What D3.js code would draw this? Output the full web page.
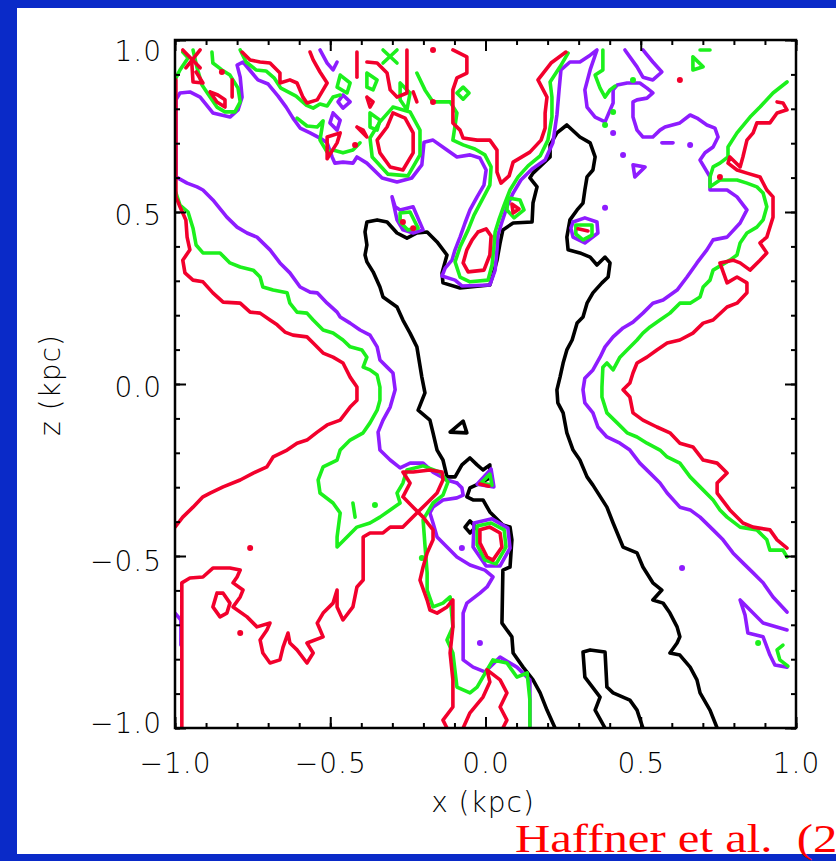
<!DOCTYPE html>
<html>
<head>
<meta charset="utf-8">
<script src="https://cdn.jsdelivr.net/npm/d3@7"></script>
<style>
  html, body { margin: 0; padding: 0; background: #0a2ac8; }
  svg { display: block; }
</style>
</head>
<body>
<svg id="chart" width="836" height="861"></svg>
<script>
// ---------------------------------------------------------------
// Contour levels of the emission-measure map, traced as polylines.
// Every point is [x, z] in kpc.
// ---------------------------------------------------------------
const xMajorTicks = [-1, -0.5, 0, 0.5, 1];
const zMajorTicks = [-1, -0.5, 0, 0.5, 1];
const tickLabels = ["\u22121.0", "\u22120.5", "0.0", "0.5", "1.0"];
const minorStep = 0.1;
const xTitle = "x (kpc)";
const zTitle = "z (kpc)";
const citation = "Haffner et al.  (2009)";

// innermost level
const blackContours = [
  [[.224,-1],[.198,-.948],[.176,-.898],[.153,-.860],[.121,-.823],[.089,-.782],[.085,-.735],[.053,-.695],[.056,-.541],[.079,-.532],[.085,-.453],[.079,-.416],[.056,-.410],[.014,-.372],[-.008,-.337],[-.040,-.337],[-.060,-.328],[-.050,-.302],[-.024,-.291],[.014,-.273],[.014,-.235],[-.008,-.250],[-.027,-.235],[-.050,-.215],[-.076,-.235],[-.098,-.270],[-.124,-.270],[-.137,-.221],[-.156,-.192],[-.169,-.142],[-.179,-.105],[-.217,-.076],[-.195,-.026],[-.205,.020],[-.221,.108],[-.243,.148],[-.266,.186],[-.285,.224],[-.330,.253],[-.340,.282],[-.362,.326],[-.382,.355],[-.388,.375],[-.382,.404],[-.388,.442],[-.382,.471],[-.349,.477],[-.317,.471],[-.285,.439],[-.253,.424],[-.221,.439],[-.188,.442],[-.156,.413],[-.124,.375],[-.140,.323],[-.137,.294],[-.082,.279],[.014,.288],[.024,.317],[.037,.360],[.047,.410],[.056,.448],[.089,.468],[.150,.471],[.153,.526],[.166,.573],[.143,.599],[.153,.613],[.208,.660],[.208,.695],[.230,.730],[.262,.753],[.304,.718],[.337,.701],[.353,.660],[.346,.622],[.327,.602],[.320,.564],[.314,.526],[.295,.506],[.272,.477],[.262,.427],[.266,.390],[.304,.381],[.337,.369],[.359,.346],[.385,.369],[.401,.352],[.395,.311],[.375,.294],[.346,.265],[.327,.235],[.314,.195],[.295,.177],[.279,.128],[.262,.099],[.250,.061],[.240,.020],[.230,-.017],[.233,-.055],[.250,-.084],[.262,-.142],[.282,-.192],[.304,-.221],[.327,-.270],[.346,-.294],[.391,-.358],[.411,-.404],[.443,-.474],[.488,-.491],[.507,-.532],[.539,-.578],[.568,-.599],[.539,-.628],[.572,-.637],[.594,-.666],[.617,-.706],[.626,-.735],[.617,-.753],[.594,-.782],[.626,-.788],[.659,-.823],[.681,-.860],[.691,-.898],[.723,-.948],[.746,-1]],
  [[.385,-1],[.353,-.948],[.369,-.910],[.320,-.852],[.314,-.779],[.337,-.773],[.385,-.779],[.391,-.881],[.411,-.898],[.465,-.919],[.488,-.948],[.507,-1]],
  [[-.114,-.140],[-.072,-.108],[-.060,-.142],[-.114,-.140]],
  [[-.066,-.416],[-.050,-.398],[-.031,-.416],[-.050,-.433],[-.066,-.416]]
];

// second level
const purpleContours = [
  [[-.092,-.288],[-.124,-.279],[-.169,-.256],[-.201,-.230],[-.243,-.230],[-.275,-.244],[-.307,-.221],[-.340,-.192],[-.346,-.140],[-.330,-.105],[-.307,-.067],[-.291,-.017],[-.298,.032],[-.317,.049],[-.340,.070],[-.349,.108],[-.372,.142],[-.404,.157],[-.436,.177],[-.468,.195],[-.478,.209],[-.510,.235],[-.542,.265],[-.565,.267],[-.597,.282],[-.630,.323],[-.662,.352],[-.694,.390],[-.736,.427],[-.768,.439],[-.800,.456],[-.833,.485],[-.878,.535],[-.910,.564],[-.929,.573],[-.961,.584],[-.997,.602],[-.997,.826],[-.984,.846],[-.952,.849],[-.919,.834],[-.878,.788],[-.823,.776],[-.797,.797],[-.784,.834],[-.790,.892],[-.800,.927],[-.781,.936],[-.733,.884],[-.700,.872],[-.668,.837],[-.642,.805],[-.620,.773],[-.597,.744],[-.565,.730],[-.533,.715],[-.510,.701],[-.494,.660],[-.485,.642],[-.459,.645],[-.427,.642],[-.414,.660],[-.382,.642],[-.333,.599],[-.285,.587],[-.237,.599],[-.205,.637],[-.198,.703],[-.169,.709],[-.124,.680],[-.092,.660],[-.050,.666],[-.018,.657],[.002,.622],[-.005,.578],[-.027,.544],[-.050,.506],[-.066,.468],[-.082,.427],[-.098,.390],[-.108,.360],[-.130,.337],[-.140,.314],[-.098,.302],[-.076,.285],[.014,.288],[.031,.331],[.037,.390],[.040,.433],[.053,.471],[.069,.515],[.089,.555],[.114,.593],[.150,.625],[.192,.651],[.217,.701],[.230,.782],[.237,.855],[.243,.913],[.272,.936],[.304,.936],[.337,.956],[.359,.971],[.337,.913],[.320,.855],[.327,.805],[.353,.776],[.385,.762],[.411,.817],[.411,.855],[.424,.869],[.456,.875],[.497,.875],[.520,.860],[.539,.846],[.520,.831],[.488,.826],[.475,.820],[.475,.776],[.488,.738],[.507,.718],[.539,.718],[.562,.738],[.578,.747],[.626,.759],[.659,.782],[.681,.773],[.713,.753],[.739,.744],[.749,.718],[.733,.689],[.707,.672],[.691,.651],[.723,.602],[.723,.564],[.778,.564],[.810,.544],[.842,.506],[.820,.468],[.778,.427],[.733,.419],[.713,.390],[.681,.352],[.649,.311],[.617,.273],[.572,.244],[.539,.235],[.507,.206],[.475,.180],[.443,.163],[.411,.137],[.385,.108],[.369,.078],[.346,.041],[.320,.017],[.314,-.017],[.320,-.055],[.346,-.084],[.362,-.125],[.391,-.154],[.433,-.172],[.465,-.192],[.497,-.230],[.530,-.259],[.562,-.288],[.585,-.317],[.626,-.358],[.659,-.366],[.691,-.387],[.733,-.424],[.765,-.453],[.797,-.491],[.829,-.520],[.862,-.549],[.894,-.578],[.926,-.619],[.971,-.663]],
  [[-.092,-.288],[-.076,-.302],[-.072,-.323],[-.092,-.331],[-.137,-.337],[-.169,-.358],[-.179,-.375],[-.169,-.404],[-.156,-.445],[-.124,-.474],[-.092,-.503],[-.050,-.526],[-.002,-.541],[.024,-.561],[.005,-.590],[-.018,-.608],[-.060,-.637],[-.072,-.666],[-.072,-.802],[-.040,-.823],[-.002,-.837],[.047,-.794],[.101,-.823],[.143,-.860],[.143,-1]],
  [[-.037,-.404],[.021,-.392],[.072,-.419],[.079,-.477],[.047,-.529],[.002,-.529],[-.040,-.474],[-.037,-.404]],
  [[-.027,-.291],[.018,-.247],[.027,-.299],[-.027,-.291]],
  [[-1,-.666],[-.981,-.686],[-.981,-.759]],
  [[-.301,.544],[-.291,.515],[-.275,.506],[-.233,.515],[-.201,.448],[-.233,.439],[-.266,.448],[-.285,.477],[-.301,.544]],
  [[.971,-.715],[.894,-.695],[.820,-.628],[.836,-.672],[.845,-.724],[.894,-.735],[.916,-.788],[.932,-.817],[.971,-.823]],
  [[.282,.471],[.320,.483],[.359,.471],[.362,.439],[.320,.410],[.282,.427],[.275,.453],[.282,.471]],
  [[-.533,.971],[-.510,.933],[-.491,.913],[-.478,.936]],
  [[-.459,.840],[-.436,.820],[-.459,.802],[-.475,.820],[-.459,.840]],
  [[-.491,.788],[-.468,.767],[-.478,.738],[-.501,.759],[-.491,.788]],
  [[.449,.971],[.488,.922],[.507,.892],[.539,.884],[.568,.907],[.539,.936],[.507,.971]],
  [[.475,.637],[.514,.631],[.481,.602],[.475,.637]],
  [[.568,.701],[.604,.701]]
];
const purpleDots = [[.411,.730],[.443,.666],[.659,.695],[.385,.512],[.633,-.535],[-.076,-.477],[-.018,-.753]];

// third level
const greenContours = [
  [[-1,.564],[-.984,.520],[-.958,.500],[-.942,.453],[-.932,.404],[-.910,.381],[-.855,.381],[-.823,.352],[-.790,.340],[-.748,.331],[-.726,.311],[-.717,.282],[-.684,.273],[-.639,.265],[-.630,.235],[-.607,.209],[-.575,.206],[-.555,.186],[-.523,.157],[-.491,.148],[-.459,.128],[-.436,.108],[-.398,.099],[-.382,.078],[-.394,.049],[-.372,.041],[-.349,.026],[-.340,-.009],[-.340,-.047],[-.349,-.076],[-.372,-.113],[-.394,-.142],[-.436,-.163],[-.468,-.192],[-.478,-.221],[-.523,-.241],[-.539,-.279],[-.533,-.317],[-.491,-.346],[-.468,-.375],[-.478,-.445],[-.478,-.474],[-.446,-.445],[-.414,-.416],[-.372,-.404],[-.340,-.387],[-.307,-.366],[-.275,-.346],[-.285,-.317],[-.266,-.288],[-.253,-.250],[-.201,-.238],[-.147,-.256],[-.121,-.285],[-.137,-.323],[-.169,-.346],[-.201,-.395],[-.195,-.468],[-.188,-.549],[-.188,-.599],[-.169,-.648],[-.137,-.637],[-.114,-.619],[-.105,-.706],[-.124,-.744],[-.105,-.782],[-.092,-.881],[-.050,-.898],[-.027,-.881],[.005,-.831],[.024,-.802],[.069,-.811],[.101,-.852],[.134,-.840],[.143,-.919],[.143,-1]],
  [[-.027,-.413],[.018,-.404],[.060,-.424],[.066,-.474],[.034,-.523],[-.002,-.512],[-.027,-.468],[-.027,-.413]],
  [[-.014,-.288],[.014,-.262],[.021,-.294],[-.014,-.288]],
  [[.291,.462],[.343,.462],[.343,.433],[.314,.419],[.291,.436],[.291,.462]],
  [[-.275,.497],[-.243,.500],[-.217,.453],[-.250,.448],[-.275,.471],[-.275,.497]],
  [[.971,.878],[.926,.846],[.884,.805],[.852,.776],[.810,.730],[.781,.689],[.781,.660],[.755,.642],[.733,.631],[.723,.602],[.723,.573],[.755,.593],[.810,.593],[.842,.584],[.874,.573],[.894,.555],[.906,.515],[.894,.477],[.874,.456],[.842,.439],[.820,.410],[.810,.375],[.787,.360],[.733,.331],[.723,.302],[.701,.282],[.691,.253],[.659,.235],[.626,.235],[.594,.206],[.562,.186],[.530,.166],[.507,.148],[.488,.128],[.456,.099],[.433,.078],[.411,.041],[.391,.061],[.378,.049],[.375,-.009],[.375,-.038],[.391,-.084],[.424,-.113],[.456,-.142],[.488,-.154],[.520,-.172],[.562,-.192],[.585,-.212],[.626,-.230],[.659,-.270],[.691,-.299],[.733,-.337],[.755,-.366],[.778,-.387],[.820,-.416],[.874,-.424],[.906,-.453],[.916,-.483],[.958,-.483],[.971,-.503]],
  [[.668,.951],[.701,.922],[.668,.913],[.668,.951]],
  [[.691,.971],[.723,.971]],
  [[.378,.971],[.378,.913],[.353,.898],[.369,.860],[.385,.834],[.401,.855],[.417,.866]],
  [[-.221,.904],[-.195,.855],[-.169,.820],[-.114,.820],[-.092,.788],[-.105,.709],[-.072,.695],[-.034,.683],[-.002,.666],[.018,.631],[.014,.578],[-.011,.535],[-.037,.491],[-.056,.448],[-.082,.398],[-.098,.355],[-.082,.311],[-.050,.297],[.008,.302],[.021,.346],[.027,.398],[.031,.442],[.043,.477],[.060,.520],[.079,.564],[.105,.602],[.137,.634],[.176,.663],[.201,.709],[.214,.776],[.214,.834],[.208,.878],[.240,.922],[.266,.962]],
  [[-.298,.805],[-.243,.791],[-.211,.738],[-.211,.666],[-.250,.605],[-.314,.610],[-.365,.660],[-.372,.715],[-.340,.762],[-.298,.805]],
  [[-1,.884],[-.984,.913],[-.958,.948],[-.975,.965]],
  [[-.942,.971],[-.929,.919],[-.913,.869],[-.887,.834],[-.865,.805],[-.839,.791],[-.807,.791],[-.790,.820],[-.797,.860],[-.823,.898],[-.849,.913],[-.878,.933],[-.881,.965]],
  [[-.790,.971],[-.771,.936],[-.739,.913],[-.707,.910],[-.681,.890],[-.659,.860],[-.610,.837],[-.578,.811],[-.555,.802],[-.533,.814],[-.510,.808],[-.491,.834],[-.468,.840]],
  [[-.607,.773],[-.575,.750],[-.542,.747],[-.523,.765],[-.533,.709],[-.510,.674],[-.491,.680],[-.459,.672],[-.427,.680],[-.404,.701]],
  [[-.382,.904],[-.349,.884],[-.362,.855],[-.382,.863],[-.382,.904]],
  [[-.275,.875],[-.243,.846],[-.253,.797],[-.275,.826],[-.275,.875]],
  [[-.372,.788],[-.340,.767],[-.349,.738],[-.372,.747],[-.372,.788]],
  [[-.468,.898],[-.436,.875],[-.446,.846],[-.478,.863],[-.468,.898]],
  [[-.092,.846],[-.072,.863],[-.053,.846],[-.072,.828],[-.092,.846]],
  [[-.330,.971],[-.285,.933]],
  [[-.285,.971],[-.330,.933]],
  [[.958,-.759],[.939,-.773],[.948,-.802],[.974,-.820]],
  [[.072,.541],[.111,.535],[.124,.506],[.092,.483],[.069,.506],[.072,.541]]
];
const greenDots = [[.411,.791],[.385,.753],[.475,.884],[-.205,-.506],[-.356,-.352],[.878,-.753]];
const greenDashes = [[[-.427,-.346],[-.420,-.387]]];

// outermost level
const redContours = [
  [[-.997,.884],[-.997,.544],[-.984,.515],[-.965,.477],[-.961,.427],[-.952,.390],[-.975,.360],[-.968,.323],[-.942,.302],[-.910,.297],[-.878,.265],[-.845,.238],[-.790,.235],[-.758,.209],[-.726,.206],[-.694,.186],[-.671,.172],[-.646,.151],[-.620,.142],[-.575,.137],[-.555,.119],[-.523,.090],[-.491,.078],[-.459,.061],[-.436,.020],[-.414,-.009],[-.414,-.047],[-.436,-.067],[-.468,-.105],[-.510,-.119],[-.542,-.140],[-.575,-.163],[-.607,-.172],[-.639,-.192],[-.684,-.212],[-.704,-.241],[-.748,-.259],[-.790,-.279],[-.845,-.299],[-.887,-.317],[-.910,-.328],[-.942,-.358],[-.975,-.387],[-1,-.416]],
  [[.939,.820],[.958,.817],[.971,.797],[.939,.788],[.916,.759],[.874,.759],[.862,.730],[.842,.709],[.829,.660],[.820,.631],[.797,.651],[.787,.660],[.781,.642],[.810,.622],[.842,.613],[.884,.602],[.906,.564],[.926,.544],[.926,.485],[.906,.427],[.884,.410],[.906,.381],[.884,.360],[.852,.331],[.820,.352],[.797,.360],[.755,.352],[.778,.294],[.810,.311],[.842,.294],[.842,.265],[.810,.235],[.778,.224],[.733,.186],[.701,.177],[.668,.148],[.626,.128],[.585,.119],[.552,.099],[.520,.078],[.488,.061],[.475,.032],[.465,.003],[.443,-.017],[.465,-.038],[.475,-.084],[.507,-.105],[.552,-.125],[.594,-.142],[.626,-.172],[.668,-.183],[.701,-.221],[.746,-.230],[.778,-.259],[.746,-.288],[.746,-.317],[.787,-.366],[.829,-.404],[.862,-.416],[.916,-.424],[.939,-.453],[.971,-.477]],
  [[-.978,-1],[-.978,-.578],[-.952,-.564],[-.910,-.561],[-.878,-.535],[-.823,-.535],[-.790,-.541],[-.800,-.561],[-.813,-.578],[-.781,-.599],[-.790,-.619],[-.813,-.648],[-.768,-.677],[-.736,-.706],[-.694,-.695],[-.704,-.715],[-.726,-.744],[-.717,-.782],[-.694,-.811],[-.662,-.802],[-.652,-.765],[-.636,-.724],[-.630,-.753],[-.607,-.773],[-.575,-.811],[-.555,-.782],[-.575,-.753],[-.523,-.735],[-.542,-.695],[-.523,-.666],[-.491,-.637],[-.478,-.599],[-.478,-.648],[-.459,-.686],[-.427,-.648],[-.414,-.590],[-.394,-.570],[-.394,-.445],[-.372,-.433],[-.330,-.433],[-.307,-.416],[-.266,-.416],[-.221,-.375],[-.188,-.346],[-.156,-.317],[-.137,-.279],[-.140,-.256],[-.179,-.250],[-.233,-.256],[-.266,-.256],[-.243,-.288],[-.266,-.328],[-.233,-.358],[-.201,-.387],[-.169,-.424],[-.169,-.453],[-.188,-.491],[-.201,-.532],[-.211,-.570],[-.188,-.628],[-.179,-.657],[-.156,-.666],[-.124,-.648],[-.105,-.628],[-.105,-.706],[-.114,-.782],[-.105,-.860],[-.105,-.939],[-.137,-.977],[-.124,-1]],
  [[-.865,-.608],[-.878,-.648],[-.855,-.677],[-.833,-.666],[-.823,-.637],[-.845,-.608],[-.865,-.608]],
  [[-.105,.971],[-.060,.951],[-.060,.904],[-.092,.890],[-.105,.855],[-.105,.759],[-.082,.738],[-.072,.715],[-.027,.709],[.014,.709],[.037,.680],[.037,.616],[.050,.584],[.076,.605],[.089,.645],[.143,.674],[.179,.709],[.192,.744],[.192,.788],[.198,.834],[.169,.884],[.211,.933],[.259,.965]],
  [[-.024,.442],[.002,.451],[.018,.430],[.014,.375],[-.005,.331],[-.056,.326],[-.072,.352],[-.060,.390],[-.043,.419],[-.024,.442]],
  [[-.018,-.424],[.014,-.416],[.047,-.433],[.053,-.474],[.024,-.512],[.005,-.503],[-.018,-.462],[-.018,-.424]],
  [[-.072,-1],[-.050,-.956],[-.008,-.910],[.014,-.866],[.005,-.831],[.047,-.860],[.069,-.898],[.047,-.939],[.069,-.977],[.056,-1]],
  [[-.298,.788],[-.259,.773],[-.233,.730],[-.233,.672],[-.266,.622],[-.307,.631],[-.340,.672],[-.349,.709],[-.317,.747],[-.298,.788]],
  [[-.784,.965],[-.758,.942],[-.726,.936],[-.694,.933],[-.662,.904],[-.662,.875],[-.630,.884],[-.607,.875],[-.588,.834],[-.575,.817],[-.542,.826],[-.523,.855],[-.510,.875],[-.533,.907],[-.555,.942],[-.565,.965]],
  [[-.975,.971],[-.919,.919]],
  [[-.919,.971],[-.965,.919]],
  [[-.946,.936],[-.942,.878],[-.910,.875],[-.932,.907]],
  [[-.887,.849],[-.865,.820],[-.839,.805],[-.839,.826],[-.862,.840],[-.887,.849]],
  [[-.816,.884],[-.816,.834]],
  [[-.414,.965],[-.414,.892]],
  [[-.382,.936],[-.349,.933],[-.317,.904],[-.307,.855],[-.285,.834],[-.253,.846],[-.253,.971]],
  [[-.233,.849],[-.221,.820]],
  [[-.382,.834],[-.372,.805],[-.362,.820],[-.382,.834]],
  [[-.414,.747],[-.394,.738],[-.382,.718],[-.414,.747]],
  [[-.510,.718],[-.468,.730],[-.478,.701],[-.510,.655],[-.510,.718]],
  [[-.018,-.291],[.011,-.297]],
  [[.298,.451],[.330,.445]],
  [[.085,.523],[.108,.509],[.089,.497],[.085,.523]]
];
const redDots = [[-.849,.907],[-.420,.695],[-.169,.971],[-.169,.820],[-.758,-.477],[-.790,-.724],[.626,.884],[.755,.602],[-.266,.471],[-.233,.453]];

// ---------------------------------------------------------------
const W = 836, H = 861;
const frame = { left: 175, right: 796, top: 40, bottom: 728 };
const colors = { black: "#000000", purple: "#8e1cff", green: "#1cf01c", red: "#f2002c" };

const svg = d3.select("#chart");
svg.append("rect").attr("width", W).attr("height", H).attr("fill", "#0a2ac8");
svg.append("rect").attr("x", 17).attr("y", 8).attr("width", W - 17).attr("height", 846).attr("fill", "#ffffff");

const x = d3.scaleLinear().domain([-1, 1]).range([frame.left, frame.right]);
const z = d3.scaleLinear().domain([-1, 1]).range([frame.bottom, frame.top]);

svg.append("clipPath").attr("id", "plotClip")
  .append("rect")
  .attr("x", frame.left).attr("y", frame.top)
  .attr("width", frame.right - frame.left).attr("height", frame.bottom - frame.top);

const plot = svg.append("g").attr("clip-path", "url(#plotClip)");
const path = d3.line().x(d => x(d[0])).y(d => z(d[1]));

const layers = [
  { lines: blackContours, dots: [], color: colors.black },
  { lines: purpleContours, dots: purpleDots, color: colors.purple },
  { lines: greenContours.concat(greenDashes), dots: greenDots, color: colors.green },
  { lines: redContours, dots: redDots, color: colors.red }
];

layers.forEach(layer => {
  const g = plot.append("g");
  g.selectAll("path").data(layer.lines).join("path")
    .attr("d", path)
    .attr("fill", "none")
    .attr("stroke", layer.color)
    .attr("stroke-width", 3.6)
    .attr("stroke-linejoin", "round")
    .attr("stroke-linecap", "round");
  g.selectAll("circle").data(layer.dots).join("circle")
    .attr("cx", d => x(d[0])).attr("cy", d => z(d[1]))
    .attr("r", 3).attr("fill", layer.color);
});

// axes: ticks point inward on all four sides
const minorTicks = d3.range(-10, 11).map(i => +(i * minorStep).toFixed(2));
const fontCss = "font-family:'DejaVu Sans',sans-serif;font-weight:200;font-size:28px;fill:#000;letter-spacing:1px";

function styleAxis(g) {
  g.select(".domain").remove();
  g.selectAll(".tick line").attr("stroke", "#000").attr("stroke-width", 2);
  g.selectAll(".tick text").attr("style", fontCss);
}

const axes = [
  { gen: d3.axisBottom, scale: x, at: `translate(0,${frame.bottom})`, ticks: xMajorTicks, labels: true },
  { gen: d3.axisTop, scale: x, at: `translate(0,${frame.top})`, ticks: xMajorTicks, labels: false },
  { gen: d3.axisLeft, scale: z, at: `translate(${frame.left},0)`, ticks: zMajorTicks, labels: true },
  { gen: d3.axisRight, scale: z, at: `translate(${frame.right},0)`, ticks: zMajorTicks, labels: false }
];

axes.forEach(a => {
  svg.append("g").attr("transform", a.at)
    .call(a.gen(a.scale).tickValues(minorTicks).tickFormat("").tickSizeInner(-5).tickSizeOuter(0))
    .call(styleAxis);
  const major = a.gen(a.scale).tickValues(a.ticks).tickSizeInner(-11).tickSizeOuter(0)
    .tickFormat(a.labels ? (d, i) => tickLabels[i] : "");
  if (a.gen === d3.axisBottom) major.tickPadding(25);
  if (a.gen === d3.axisLeft) major.tickPadding(13);
  const g = svg.append("g").attr("transform", a.at).call(major).call(styleAxis);
  // vertical nudges of the z labels at the frame corners
  if (a.gen === d3.axisLeft) {
    g.selectAll(".tick text")
      .attr("dy", d => d === 1 ? "0.74em" : d === -1 ? "0.15em" : d === -0.5 ? "0.5em" : "0.44em");
  }
});

// frame
svg.append("rect")
  .attr("x", frame.left).attr("y", frame.top)
  .attr("width", frame.right - frame.left).attr("height", frame.bottom - frame.top)
  .attr("fill", "none").attr("stroke", "#000").attr("stroke-width", 2.5);

// axis titles
svg.append("text").attr("x", 483).attr("y", 812).attr("text-anchor", "middle")
  .attr("style", fontCss).text(xTitle);
svg.append("text").attr("transform", "translate(60,385) rotate(-90)").attr("text-anchor", "middle")
  .attr("style", fontCss).text(zTitle);

// citation, running off the right edge of the slide
svg.append("text")
  .attr("transform", "translate(515,852) scale(1.25,1)")
  .attr("style", "font-family:'Liberation Serif','Times New Roman',serif;font-size:39px;fill:#ff0000;white-space:pre")
  .text(citation);
</script>
</body>
</html>
